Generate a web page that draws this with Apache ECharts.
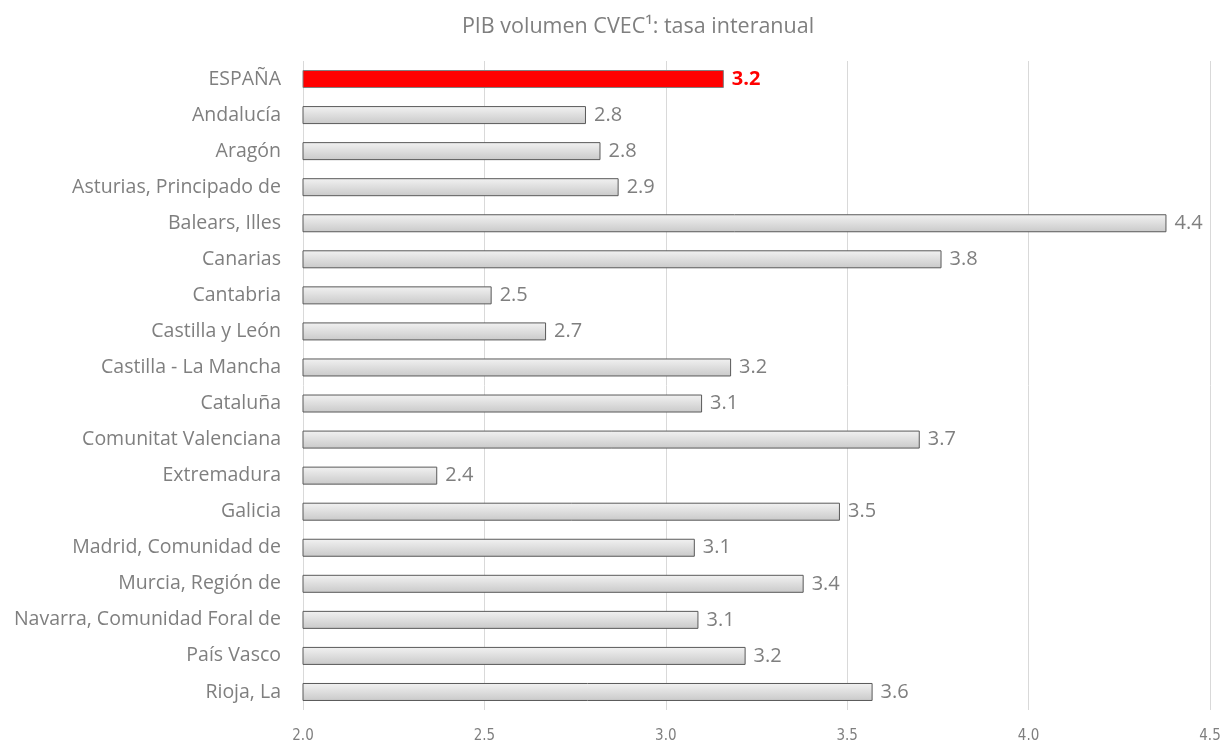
<!DOCTYPE html>
<html><head><meta charset="utf-8">
<script src="https://cdn.jsdelivr.net/npm/echarts@6/dist/echarts.min.js"></script>
<style>html,body{margin:0;padding:0;background:#fff}#c{width:1227px;height:744px}</style>
</head><body><div id="c"></div>
<script>
const categories = ["ESPAÑA","Andalucía","Aragón","Asturias, Principado de","Balears, Illes","Canarias","Cantabria","Castilla y León","Castilla - La Mancha","Cataluña","Comunitat Valenciana","Extremadura","Galicia","Madrid, Comunidad de","Murcia, Región de","Navarra, Comunidad Foral de","País Vasco","Rioja, La"];
const values = [3.16,2.78,2.82,2.87,4.38,3.76,2.52,2.67,3.18,3.10,3.70,2.37,3.48,3.08,3.38,3.09,3.22,3.57];
const xTicks = [2.0,2.5,3.0,3.5,4.0,4.5];
const titleText = "PIB volumen CVEC¹: tasa interanual";

const grayFill = {type:'linear',x:0,y:0,x2:0,y2:1,colorStops:[{offset:0,color:'#f2f2f2'},{offset:1,color:'#c9c9c9'}]};
const data = values.map((v,i)=> i===0 ? {
  value:v,
  itemStyle:{color:'#ff0000',borderColor:'#7f7f7f',borderWidth:1},
  label:{color:'#ff0000',fontWeight:'bold'}
} : {value:v});

const chart = echarts.init(document.getElementById('c'));
chart.setOption({
  animation:false,
  title:{text:titleText,left:633,textAlign:'center',top:11,textStyle:{color:'#7f7f7f',fontWeight:'normal',fontSize:21.5,fontFamily:'"Open Sans", sans-serif'}},
  grid:{left:303,right:17,top:61,bottom:34,containLabel:false},
  xAxis:{type:'value',min:xTicks[0],max:xTicks[xTicks.length-1],interval:0.5,
    axisLine:{show:false},axisTick:{show:false},
    splitLine:{lineStyle:{color:'#d9d9d9',width:1}},
    axisLabel:{formatter:v=>v.toFixed(1),color:'#7f7f7f',fontSize:15,fontFamily:'"Liberation Sans Narrow", "DejaVu Sans Condensed", sans-serif',margin:19}},
  yAxis:{type:'category',data:categories,inverse:true,
    axisLine:{show:false},axisTick:{show:false},
    axisLabel:{color:'#7f7f7f',fontSize:19.5,fontFamily:'"Open Sans", sans-serif',margin:22}},
  series:[{type:'bar',data:data,barWidth:18,
    itemStyle:{color:grayFill,borderColor:'#595959',borderWidth:1},
    label:{show:true,position:'right',distance:8,formatter:p=>(Math.round(p.value*10)/10).toFixed(1),color:'#7f7f7f',fontSize:20,fontFamily:'"Open Sans", sans-serif'}}]
});
</script></body></html>
